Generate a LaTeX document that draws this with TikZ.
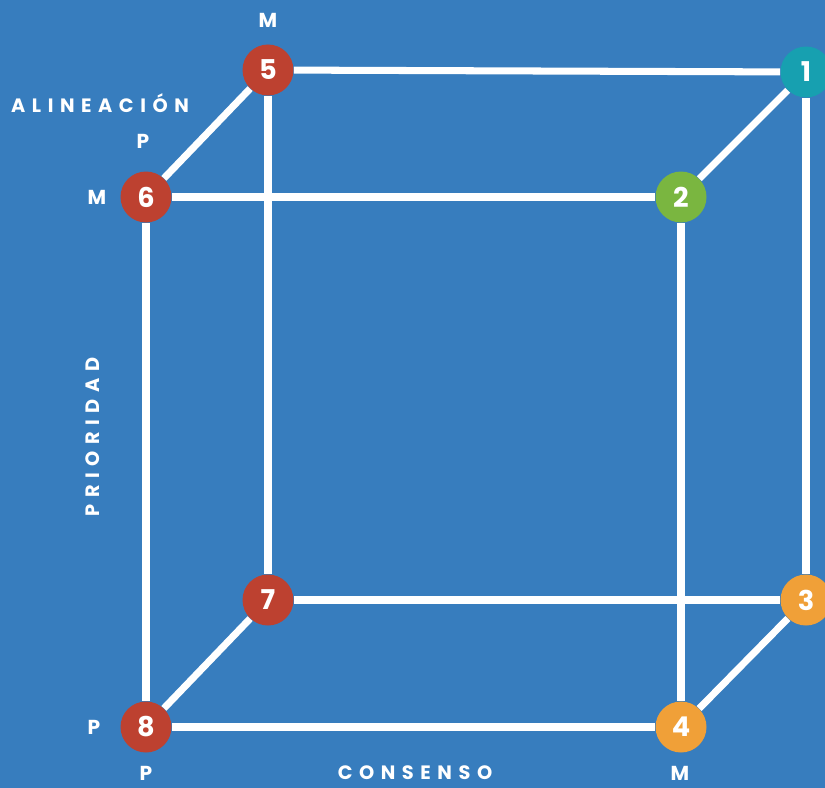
\documentclass[tikz,border=0pt]{standalone}
\usepackage{fontspec}
\setsansfont{Poppins}
\newfontfamily\spaced[LetterSpace=34]{Poppins}
\usepackage{tikz}
\usetikzlibrary{positioning}

\definecolor{bgblue}{RGB}{55,125,190}
\definecolor{dotred}{RGB}{189,65,48}
\definecolor{dotteal}{RGB}{23,160,176}
\definecolor{dotgreen}{RGB}{122,182,64}
\definecolor{dotorange}{RGB}{240,160,56}

\begin{document}
\begin{tikzpicture}[font=\sffamily\bfseries,
    vertex/.style={circle, minimum size=1.02cm, inner sep=0pt, text=white, font=\sffamily\bfseries\fontsize{15.5}{16}\selectfont},
    edge/.style={white, line width=4pt},
    tag/.style={text=white, font=\sffamily\bfseries\fontsize{11.5}{12}\selectfont},
    axis/.style={text=white, font=\spaced\bfseries\fontsize{11}{12}\selectfont}]
    \fill[bgblue] (0,0) rectangle (16.5,-15.76);
    \useasboundingbox (0,0) rectangle (16.5,-15.76);

    % corners of the cube
    \node[vertex, fill=dotteal] (n1) at (16.12,-1.44) {1};
    \node[vertex, fill=dotgreen] (n2) at (13.62,-3.94) {2};
    \node[vertex, fill=dotorange] (n3) at (16.12,-12.0) {3};
    \node[vertex, fill=dotorange] (n4) at (13.62,-14.54) {4};
    \node[vertex, fill=dotred] (n5) at (5.36,-1.40) {5};
    \node[vertex, fill=dotred] (n6) at (2.92,-3.94) {6};
    \node[vertex, fill=dotred] (n7) at (5.36,-12.0) {7};
    \node[vertex, fill=dotred] (n8) at (2.92,-14.54) {8};

    \draw[edge] (n5) -- (n1);
    \draw[edge] (n6) -- (n2);
    \draw[edge] (n7) -- (n3);
    \draw[edge] (n8) -- (n4);
    \draw[edge] (n5) -- (n7);
    \draw[edge] (n6) -- (n8);
    \draw[edge] (n1) -- (n3);
    \draw[edge] (n2) -- (n4);
    \draw[edge] (n5) -- (n6);
    \draw[edge] (n1) -- (n2);
    \draw[edge] (n7) -- (n8);
    \draw[edge] (n3) -- (n4);

    % axis labels
    \node[tag] (m5) at (5.36,-0.40) {M};
    \node[axis] (alin) at (2.0,-2.06) {ALINEACIÓN};
    \node[tag] (p6) at (2.86,-2.82) {P};
    \node[tag] (m6) at (1.94,-3.94) {M};
    \node[axis, rotate=90] (prio) at (1.86,-8.74) {PRIORIDAD};
    \node[tag] (p8) at (1.88,-14.54) {P};
    \node[tag] (p8b) at (2.92,-15.46) {P};
    \node[axis] (cons) at (8.3,-15.46) {CONSENSO};
    \node[tag] (m4) at (13.6,-15.46) {M};
\end{tikzpicture}
\end{document}
